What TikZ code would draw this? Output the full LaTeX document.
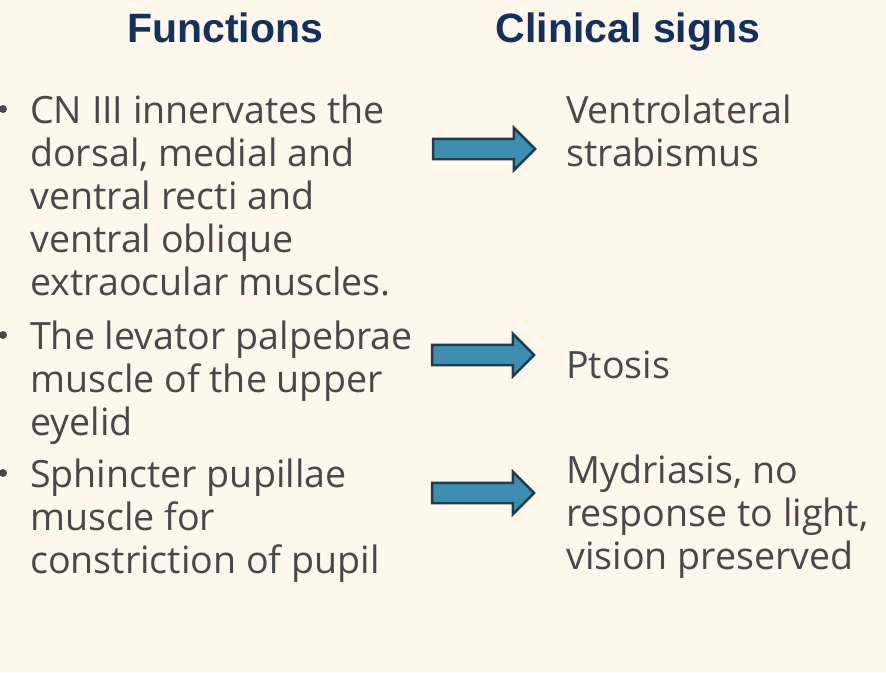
\documentclass[tikz,border=0pt]{standalone}
\usepackage{fontspec}
\setmainfont{Open Sans}
\newfontfamily\titlefont{Liberation Sans}
\usetikzlibrary{shapes.arrows}
\definecolor{bg}{HTML}{FEF7EC}
\definecolor{navy}{HTML}{14305F}
\definecolor{txt}{HTML}{484848}
\definecolor{arrfill}{HTML}{3E8DB0}
\definecolor{arrline}{HTML}{1C3D50}
\tikzset{
  title/.style={font=\titlefont\bfseries\fontsize{41}{48}\selectfont, text=navy, anchor=base},
  body/.style={font=\fontsize{37.6}{43}\selectfont, text=txt, anchor=base west, align=left, inner sep=0pt},
  bul/.style={circle, fill=txt, inner sep=0pt, minimum size=8pt},
  fatarrow/.style={single arrow, draw=arrline, line width=2.4pt, fill=arrfill,
    minimum height=102pt, inner xsep=0pt, inner ysep=9pt, single arrow head extend=11pt,
    single arrow tip angle=90, anchor=center}
}
\begin{document}
\begin{tikzpicture}[x=1pt,y=-1pt]
\fill[bg] (0,0) rectangle (886,672);
\useasboundingbox (0,0) rectangle (886,672);
\node[title] (t1) at (225,42) {Functions};
\node[title] (t2) at (628,42) {Clinical signs};
% left column
\node[body] (l1) at (30,123) {CN III innervates the};
\node[body] (l2) at (30,166) {dorsal, medial and};
\node[body] (l3) at (30,209) {ventral recti and};
\node[body] (l4) at (30,252) {ventral oblique};
\node[body] (l5) at (30,295) {extraocular muscles.};
\node[body] (m1) at (30,349) {The levator palpebrae};
\node[body] (m2) at (30,392) {muscle of the upper};
\node[body] (m3) at (30,435) {eyelid};
\node[body] (n1) at (30,487) {Sphincter pupillae};
\node[body] (n2) at (30,530) {muscle for};
\node[body] (n3) at (30,573) {constriction of pupil};
\node[bul] (b1) at (3,109) {};
\node[bul] (b2) at (3,335) {};
\node[bul] (b3) at (3,473) {};
% arrows
\node[fatarrow] (a1) at (479,149) {};
\node[fatarrow] (a2) at (478,355) {};
\node[fatarrow] (a3) at (478,493) {};
% right column
\node[body] (r1) at (566,123) {Ventrolateral};
\node[body] (r2) at (566,166) {strabismus};
\node[body] (r3) at (566,378) {Ptosis};
\node[body] (r4) at (566,483) {Mydriasis, no};
\node[body] (r5) at (566,526) {response to light,};
\node[body] (r6) at (566,569) {vision preserved};
\end{tikzpicture}
\end{document}
